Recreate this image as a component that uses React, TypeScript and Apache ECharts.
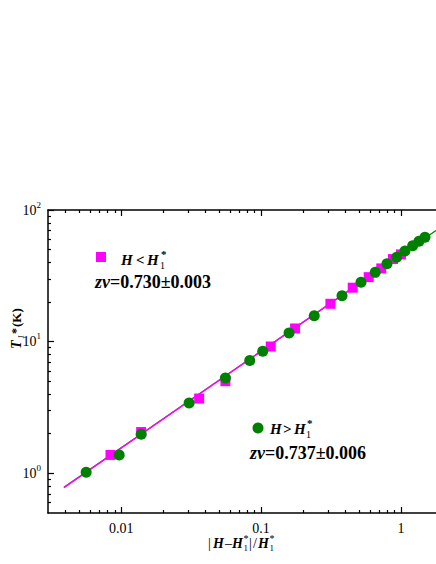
import React, { useEffect, useRef } from "react";
import * as echarts from "echarts";

// ---- data ----
const xMajor = [0.01, 0.1, 1];
const xMajorLabels = ["0.01", "0.1", "1"];
const xMinor = [
  0.004, 0.005, 0.006, 0.007, 0.008, 0.009,
  0.02, 0.03, 0.04, 0.05, 0.06, 0.07, 0.08, 0.09,
  0.2, 0.3, 0.4, 0.5, 0.6, 0.7, 0.8, 0.9,
];
const yMajor = [1, 10, 100];
const yMajorExp = ["0", "1", "2"];
const yMinor = [0.6, 0.7, 0.8, 0.9, 2, 3, 4, 5, 6, 7, 8, 9, 20, 30, 40, 50, 60, 70, 80, 90];

// H < H1* (magenta squares)
const belowX = [0.00839, 0.0139, 0.0361, 0.0556, 0.1173, 0.175, 0.313, 0.452, 0.588, 0.723, 0.877, 1.0];
const belowY = [1.38, 2.06, 3.7, 5.01, 9.19, 12.6, 19.4, 25.7, 30.9, 36.0, 42.4, 46.0];

// H > H1* (green circles)
const aboveX = [0.00562, 0.00968, 0.0139, 0.0306, 0.0556, 0.083, 0.1028, 0.1585, 0.24, 0.379, 0.518, 0.655, 0.794, 0.932, 1.068, 1.212, 1.345, 1.484];
const aboveY = [1.02, 1.38, 1.98, 3.42, 5.3, 7.19, 8.47, 11.66, 15.71, 22.3, 28.3, 33.6, 39.1, 43.7, 48.8, 53.5, 57.8, 62.0];

// fit lines (end points)
const fitBelowX = [0.0039, 1.05];
const fitBelowY = [0.78, 47.5];
const fitAboveX = [0.0039, 1.78];
const fitAboveY = [0.785, 70];

const X_MIN = 0.003;
const X_MAX = 1.78;
const Y_MIN = 0.5;
const Y_MAX = 100;

const SERIF = "Liberation Serif";
const MAGENTA = "#ff00ff";
const GREEN = "#008000";

function txt(x: number, y: number, text: string, fontSize: number, fontWeight: string, fontStyle: string) {
  return {
    type: "text",
    x,
    y,
    silent: true,
    style: {
      text,
      fontSize,
      fontWeight,
      fontStyle,
      fontFamily: SERIF,
      fill: "#000",
      align: "left",
      verticalAlign: "middle",
    },
  };
}

function zLabel(x: number, y: number, value: string) {
  return {
    type: "text",
    x,
    y,
    silent: true,
    style: {
      text: `{i|zν}{b|=${value}}`,
      fontFamily: SERIF,
      align: "left",
      verticalAlign: "middle",
      rich: {
        i: { fontSize: 18, fontWeight: "bold", fontStyle: "italic", fontFamily: SERIF, fill: "#000" },
        b: { fontSize: 18, fontWeight: "bold", fontFamily: SERIF, fill: "#000" },
      },
    },
  };
}

function mkXAxis(position: string, ticks: number[], len: number, showLine: boolean, showLabels: boolean) {
  return {
    type: "log",
    position,
    min: X_MIN,
    max: X_MAX,
    logBase: 10,
    splitLine: { show: false },
    axisLine: { show: showLine, onZero: false, lineStyle: { color: "#000", width: 1.5 } },
    axisTick: { show: true, inside: true, length: len, customValues: ticks, lineStyle: { color: "#000", width: 1.2 } },
    axisLabel: showLabels
      ? {
          show: true,
          customValues: xMajor,
          margin: 8,
          fontSize: 14,
          fontFamily: SERIF,
          color: "#000",
          formatter: (v: number) => {
            const i = xMajor.findIndex((m) => Math.abs(Math.log10(m) - Math.log10(v)) < 1e-6);
            return i >= 0 ? xMajorLabels[i] : "";
          },
        }
      : { show: false },
  };
}

function mkYAxis(ticks: number[], len: number, showLine: boolean, showLabels: boolean) {
  return {
    type: "log",
    position: "left",
    min: Y_MIN,
    max: Y_MAX,
    logBase: 10,
    splitLine: { show: false },
    axisLine: { show: showLine, onZero: false, lineStyle: { color: "#000", width: 1.5 } },
    axisTick: { show: true, inside: true, length: len, customValues: ticks, lineStyle: { color: "#000", width: 1.2 } },
    axisLabel: showLabels
      ? {
          show: true,
          customValues: yMajor,
          margin: 7,
          fontFamily: SERIF,
          color: "#000",
          formatter: (v: number) => {
            const i = yMajor.findIndex((m) => Math.abs(Math.log10(m) - Math.log10(v)) < 1e-6);
            return i >= 0 ? `{b|10}{s|${yMajorExp[i]}}` : "";
          },
          rich: {
            b: { fontSize: 14, lineHeight: 20, fontFamily: SERIF, color: "#000" },
            s: { fontSize: 9, lineHeight: 10, verticalAlign: "top", fontFamily: SERIF, color: "#000" },
          },
        }
      : { show: false },
  };
}

export default function App() {
  const ref = useRef<HTMLDivElement>(null);

  useEffect(() => {
    if (!ref.current) return;
    const chart = echarts.init(ref.current, null, { renderer: "svg" });

    const option: any = {
      animation: false,
      backgroundColor: "#fff",
      grid: { left: 48, right: 0, top: 210, bottom: 51, containLabel: false, outerBoundsMode: "none" },
      xAxis: [
        mkXAxis("bottom", xMajor, 6, true, true),
        mkXAxis("bottom", xMinor, 3, false, false),
        mkXAxis("top", xMajor, 6, true, false),
        mkXAxis("top", xMinor, 3, false, false),
      ],
      yAxis: [mkYAxis(yMajor, 6, true, true), mkYAxis(yMinor, 3, false, false)],
      series: [
        {
          type: "line",
          data: fitAboveX.map((x, i) => [x, fitAboveY[i]]),
          symbol: "none",
          lineStyle: { color: GREEN, width: 1.2 },
          z: 2,
        },
        {
          type: "line",
          data: fitBelowX.map((x, i) => [x, fitBelowY[i]]),
          symbol: "none",
          lineStyle: { color: MAGENTA, width: 1.5 },
          z: 3,
        },
        {
          type: "scatter",
          data: belowX.map((x, i) => [x, belowY[i]]),
          symbol: "rect",
          symbolSize: 10,
          itemStyle: { color: MAGENTA, opacity: 1 },
          z: 4,
        },
        {
          type: "scatter",
          data: aboveX.map((x, i) => [x, aboveY[i]]),
          symbol: "circle",
          symbolSize: 11,
          itemStyle: { color: GREEN, opacity: 1 },
          z: 5,
        },
      ],
      graphic: [
        // legend 1
        { type: "rect", shape: { x: 96, y: 252, width: 10, height: 10 }, style: { fill: MAGENTA }, silent: true },
        txt(121, 260, "H", 15, "bold", "italic"),
        txt(136, 260, "<", 15, "bold", "normal"),
        txt(147, 260, "H", 15, "bold", "italic"),
        txt(160, 265, "1", 10, "normal", "normal"),
        txt(161, 254, "*", 11, "bold", "normal"),
        zLabel(95, 282, "0.730±0.003"),
        // legend 2
        { type: "circle", shape: { cx: 258, cy: 428, r: 5.5 }, style: { fill: GREEN }, silent: true },
        txt(270, 429, "H", 15, "bold", "italic"),
        txt(283, 429, ">", 15, "bold", "normal"),
        txt(294, 429, "H", 15, "bold", "italic"),
        txt(306, 434, "1", 10, "normal", "normal"),
        txt(307, 423, "*", 11, "bold", "normal"),
        zLabel(250, 453, "0.737±0.006"),
        // x axis name
        txt(208, 543, "|", 14, "normal", "normal"),
        txt(213, 543, "H", 14, "bold", "italic"),
        txt(225, 543, "–", 14, "normal", "normal"),
        txt(232, 543, "H", 14, "bold", "italic"),
        txt(243.5, 548, "1", 9, "normal", "normal"),
        txt(243.5, 538, "*", 10, "normal", "normal"),
        txt(249, 543, "|", 14, "normal", "normal"),
        txt(253, 543, "/", 14, "normal", "normal"),
        txt(258, 543, "H", 14, "bold", "italic"),
        txt(269.5, 548, "1", 9, "normal", "normal"),
        txt(269.5, 538, "*", 10, "normal", "normal"),
        // y axis name (rotated)
        {
          type: "group",
          x: 16.5,
          y: 349,
          rotation: Math.PI / 2,
          silent: true,
          children: [
            txt(0, 0, "T", 14, "bold", "italic"),
            txt(10, 4.5, "1", 9, "normal", "italic"),
            txt(15, -1, "*", 12, "bold", "normal"),
            txt(22, 0, "(K)", 13, "bold", "normal"),
          ],
        },
      ],
    };

    chart.setOption(option);
    return () => {
      chart.dispose();
    };
  }, []);

  return (
    <div
      ref={ref}
      style={{ position: "fixed", left: 0, top: 0, width: 436, height: 564, background: "#fff" }}
    />
  );
}
